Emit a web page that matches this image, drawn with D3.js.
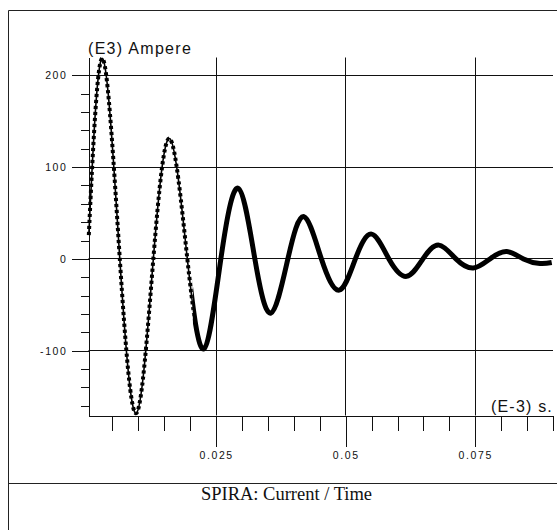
<!DOCTYPE html>
<html><head><meta charset="utf-8">
<script src="https://cdn.jsdelivr.net/npm/d3@7"></script>
<style>body{margin:0;background:#fff}svg{display:block}</style>
</head><body>
<script>
// ---- data ----
const timeValues = [0.00043, 0.00313, 0.00641, 0.00963, 0.01288, 0.01606, 0.01944, 0.02263, 0.02591, 0.02925,
  0.03247, 0.03556, 0.03884, 0.04193, 0.04531, 0.04875, 0.05187, 0.05500, 0.05834, 0.06176,
  0.06490, 0.06799, 0.07127, 0.07461, 0.07784, 0.08106, 0.08431, 0.08749, 0.08975];
const currentValues = [26, 218, 0, -168, 0, 131, 0, -98, 0, 77,
  0, -59, 0, 46, 0, -34, 0, 27, 0, -19,
  0, 15, 0, -10, 0, 8, 0, -5, -4];
const xMajorTicks = [0.025, 0.05, 0.075];
const xMajorLabels = ["0.025", "0.05", "0.075"];
const xMinorTicks = [0.005, 0.01, 0.015, 0.02, 0.03, 0.035, 0.04, 0.045, 0.055, 0.06, 0.065, 0.07, 0.08, 0.085, 0.09];
const yMajorTicks = [200, 100, 0, -100];
const yMajorLabels = ["200", "100", "0", "-100"];
const yMinorTicks = [180, 160, 140, 120, 80, 60, 40, 20, -20, -40, -60, -80, -120, -140, -160];
const xDomain = [0.00037, 0.09];
const yDomain = [-170.6, 219.4];
const sparseUntil = 0.0205; // samples are visibly separate in the steep early part
const chartTitle = "SPIRA: Current / Time";
const yUnitLabel = "(E3) Ampere";
const xUnitLabel = "(E-3) s.";

// ---- layout ----
const W = 557, H = 530;
const plot = {left: 88.5, right: 553, top: 57.5, bottom: 415.5};
const sansFont = "'Liberation Sans', Arial, sans-serif";
const serifFont = "'Liberation Serif', 'Times New Roman', serif";

const svg = d3.select("body").append("svg").attr("width", W).attr("height", H);

const x = d3.scaleLinear().domain(xDomain).range([plot.left, plot.right]);
const y = d3.scaleLinear().domain(yDomain).range([plot.bottom, plot.top]);

// frame
svg.append("line").attr("x1", 8.5).attr("x2", 8.5).attr("y1", 10.5).attr("y2", H).attr("stroke", "#222");
svg.append("line").attr("x1", 8.5).attr("x2", W).attr("y1", 10.5).attr("y2", 10.5).attr("stroke", "#222");
svg.append("line").attr("x1", 8.5).attr("x2", W).attr("y1", 483.5).attr("y2", 483.5).attr("stroke", "#222");

// grid lines
const crisp = v => Math.round(v - 0.5) + 0.5;
svg.append("g").selectAll("line").data(yMajorTicks).join("line")
  .attr("x1", plot.left).attr("x2", 553)
  .attr("y1", d => crisp(y(d))).attr("y2", d => crisp(y(d)))
  .attr("stroke", "#111");
svg.append("g").selectAll("line").data(xMajorTicks).join("line")
  .attr("y1", plot.top).attr("y2", plot.bottom)
  .attr("x1", d => crisp(x(d))).attr("x2", d => crisp(x(d)))
  .attr("stroke", "#111");

function styleAxis(g) {
  g.selectAll("path,line").attr("stroke", "#111").attr("shape-rendering", "crispEdges");
  g.selectAll("text").attr("font-family", sansFont).attr("font-size", 10.5)
    .attr("letter-spacing", "1.6px").attr("fill", "#111");
}

// y axis: minor + major
svg.append("g").attr("transform", `translate(${plot.left},0)`)
  .call(d3.axisLeft(y).tickValues(yMinorTicks).tickSize(8).tickSizeOuter(0).tickFormat(""))
  .call(styleAxis);
svg.append("g").attr("transform", `translate(${plot.left},0)`)
  .call(d3.axisLeft(y).tickValues(yMajorTicks).tickSize(17).tickPadding(4).tickSizeOuter(0)
    .tickFormat((d, i) => yMajorLabels[i]))
  .call(styleAxis);

// x axis: minor + major
svg.append("g").attr("transform", `translate(0,${plot.bottom})`)
  .call(d3.axisBottom(x).tickValues(xMinorTicks).tickSize(15).tickSizeOuter(0).tickFormat(""))
  .call(styleAxis);
svg.append("g").attr("transform", `translate(0,${plot.bottom})`)
  .call(d3.axisBottom(x).tickValues(xMajorTicks).tickSize(31).tickPadding(5).tickSizeOuter(0)
    .tickFormat((d, i) => xMajorLabels[i]))
  .call(styleAxis);

// data curve
const defs = svg.append("defs");
defs.append("clipPath").attr("id", "clipSparse").append("rect")
  .attr("x", 0).attr("y", 0).attr("width", x(sparseUntil)).attr("height", H);
defs.append("clipPath").attr("id", "clipDense").append("rect")
  .attr("x", x(sparseUntil)).attr("y", 0).attr("width", W).attr("height", H);

const pts = timeValues.map((t, i) => [t, currentValues[i]]);
const line = d3.line().x(d => x(d[0])).y(d => y(d[1])).curve(d3.curveNatural);
const dPath = line(pts);
// early part: thin line with beads
const sparse = svg.append("g").attr("clip-path", "url(#clipSparse)");
sparse.append("path").attr("d", dPath).attr("fill", "none")
  .attr("stroke", "#000").attr("stroke-width", 1.6);
sparse.append("path").attr("d", dPath).attr("fill", "none")
  .attr("stroke", "#000").attr("stroke-width", 4)
  .attr("stroke-dasharray", "3.2 2.8");
// later part: dense samples form a thick line
svg.append("g").attr("clip-path", "url(#clipDense)")
  .append("path").attr("d", dPath).attr("fill", "none")
  .attr("stroke", "#000").attr("stroke-width", 5).attr("stroke-linejoin", "round");

// unit labels
svg.append("text").attr("x", 88).attr("y", 54).text(yUnitLabel)
  .attr("font-family", sansFont).attr("font-size", 16).attr("letter-spacing", "1.3px").attr("fill", "#111");
svg.append("text").attr("x", 553).attr("y", 412).attr("text-anchor", "end").text(xUnitLabel)
  .attr("font-family", sansFont).attr("font-size", 16).attr("letter-spacing", "1.2px").attr("fill", "#111");

// title
svg.append("text").attr("x", 286.5).attr("y", 500).attr("text-anchor", "middle").text(chartTitle)
  .attr("font-family", serifFont).attr("font-size", 18.5).attr("fill", "#111");
</script>
</body></html>
